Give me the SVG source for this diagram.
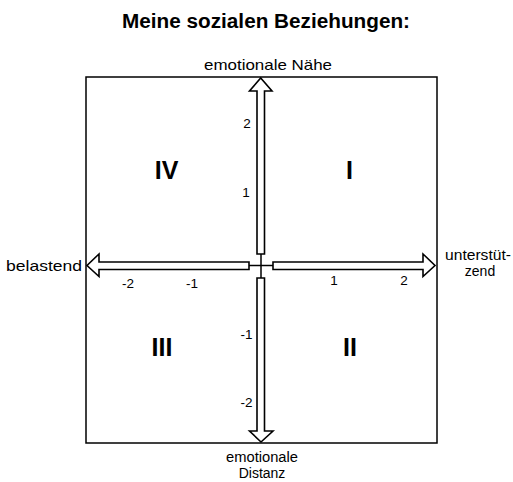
<svg xmlns="http://www.w3.org/2000/svg" width="513" height="482" viewBox="0 0 513 482">
<style>
text{font-family:"Liberation Sans",Arial,Helvetica,sans-serif;fill:#000}
.t{font-size:20px;font-weight:bold}
.l{font-size:15px}
.m{font-size:14px}
.n{font-size:13.5px}
.q{font-size:25px;font-weight:bold}
.ar{fill:#fff;stroke:#000;stroke-width:1.6;stroke-linejoin:miter}
.ln{stroke:#000;stroke-width:1.5;fill:none}
</style>
<rect width="513" height="482" fill="#fff"/>
<text class="t" x="266" y="28" text-anchor="middle" textLength="288" lengthAdjust="spacingAndGlyphs">Meine sozialen Beziehungen:</text>
<g id="frame">
<rect class="ln" x="86" y="77" width="351" height="366"/>
</g>
<g id="axes">
<polygon id="arrow-up" class="ar" points="257,254 257,91 249.5,91 260.7,78 272,91 264.5,91 264.5,254"/>
<polygon id="arrow-down" class="ar" points="257,278 257,431 249.5,431 261,442 273,431 264.5,431 264.5,278"/>
<polygon id="arrow-left" class="ar" points="249,262 99,262 99,254 87,265.5 99,276.5 99,269.5 249,269.5"/>
<polygon id="arrow-right" class="ar" points="273,262 423,262 423,254 435,265.5 423,276.5 423,269.5 273,269.5"/>
<line class="ln" x1="249" y1="265.5" x2="273" y2="265.5"/>
<line class="ln" x1="261" y1="254" x2="261" y2="278"/>
</g>
<g id="axis-labels">
<text class="l" x="268" y="70" text-anchor="middle" textLength="128" lengthAdjust="spacingAndGlyphs">emotionale Nähe</text>
<text class="l" x="82" y="271" text-anchor="end" textLength="76" lengthAdjust="spacingAndGlyphs">belastend</text>
<text class="m" x="478" y="260" text-anchor="middle" textLength="66" lengthAdjust="spacingAndGlyphs">unterstüt-</text>
<text class="m" x="480" y="276" text-anchor="middle">zend</text>
<text class="m" x="262" y="462" text-anchor="middle" textLength="72" lengthAdjust="spacingAndGlyphs">emotionale</text>
<text class="m" x="262" y="478" text-anchor="middle">Distanz</text>
</g>
<g id="ticks">
<text class="n" x="247" y="128" text-anchor="middle">2</text>
<text class="n" x="246" y="197" text-anchor="middle">1</text>
<text class="n" x="246.5" y="339" text-anchor="middle">-1</text>
<text class="n" x="246.5" y="407" text-anchor="middle">-2</text>
<text class="n" x="128" y="288" text-anchor="middle">-2</text>
<text class="n" x="192" y="288" text-anchor="middle">-1</text>
<text class="n" x="334" y="285" text-anchor="middle">1</text>
<text class="n" x="404" y="285" text-anchor="middle">2</text>
</g>
<g id="quadrant-I"><text class="q" x="349.5" y="178.5" text-anchor="middle">I</text></g>
<g id="quadrant-II"><text class="q" x="350" y="356" text-anchor="middle">II</text></g>
<g id="quadrant-III"><text class="q" x="162" y="356" text-anchor="middle">III</text></g>
<g id="quadrant-IV"><text class="q" x="166.5" y="179" text-anchor="middle">IV</text></g>
</svg>
